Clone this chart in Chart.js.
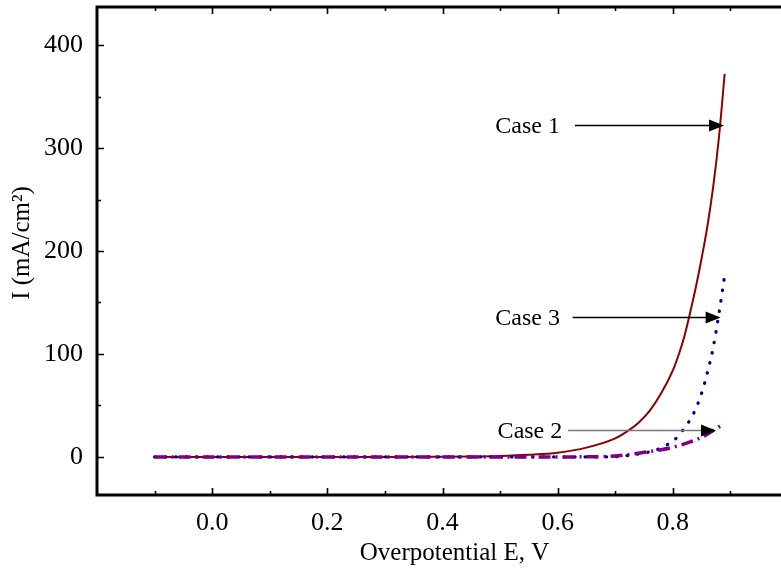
<!DOCTYPE html>
<html>
<head>
<meta charset="utf-8">
<script src="https://cdn.jsdelivr.net/npm/chart.js@4.4.1/dist/chart.umd.min.js"></script>
<style>
  html, body { margin: 0; padding: 0; background: #fff; overflow: hidden; }
  #wrap { width: 800px; height: 575px; }
</style>
</head>
<body>
<div id="wrap"><canvas id="chart" width="800" height="575"></canvas></div>
<script>
const potential = [-0.1, 0.0, 0.1, 0.2, 0.3, 0.4, 0.45, 0.5, 0.55, 0.6, 0.65, 0.7, 0.72, 0.74, 0.76, 0.78, 0.8, 0.81, 0.82, 0.83, 0.84, 0.85, 0.86, 0.87, 0.88, 0.89];

// Current density I (mA/cm2) for each case
const case1 = [0, 0, 0, 0, 0, 0.2, 0.4, 0.9, 2, 4, 9, 18, 24.5, 33, 45, 62, 84, 99, 117, 140, 165, 193, 224, 262, 310, 372];
const case3 = [0, 0, 0, 0, 0, 0, 0, 0, 0, 0, 0, 0.2, 1.2, 2.8, 5, 8.8, 15.5, 20.5, 28, 36, 47, 62, 82, 106, 139, 176];
const case2 = [0, 0, 0, 0, 0, 0, 0, 0, 0, 0, 0.1, 0.9, 2.1, 3.6, 5.2, 7, 9.4, 11, 12.6, 14.5, 16.8, 19, 22, 25.6, 29, 32];

// Arrow annotations: label, label right edge E, arrow tail E, arrow tip E, level I
const caseNames = ["Case 1", "Case 3", "Case 2"];
const labelEndE = [0.604, 0.604, 0.608];
const arrowFromE = [0.630, 0.626, 0.618];
const arrowToE = [0.889, 0.883, 0.875];
const arrowI = [322, 136, 26.6];

const xTitle = "Overpotential E, V";
const yTitle = "I (mA/cm²)";

const FONT = '"Liberation Serif", "Times New Roman", serif';

function pts(ys) {
    return potential.map((e, i) => ({ x: e, y: ys[i] }));
}

// frame box + inward ticks on all four sides, plus axis titles
const frameTicks = {
    id: "frameTicks",
    afterDraw(chart) {
        const { ctx, chartArea: a, scales: { x, y } } = chart;
        ctx.save();
        ctx.strokeStyle = "#000";
        ctx.lineWidth = 1.6;
        x.ticks.forEach(t => {
            const k = Math.round(t.value * 10);
            if (Math.abs(t.value * 10 - k) > 1e-6 || t.value <= x.min || t.value >= x.max) return;
            const len = k % 2 === 0 ? 7 : 4;
            const px = Math.round(x.getPixelForValue(t.value)) + 0.5;
            ctx.beginPath();
            ctx.moveTo(px, a.bottom); ctx.lineTo(px, a.bottom - len);
            ctx.moveTo(px, a.top); ctx.lineTo(px, a.top + len);
            ctx.stroke();
        });
        y.ticks.forEach(t => {
            if (t.value % 50 !== 0 || t.value <= y.min || t.value >= y.max) return;
            const len = t.value % 100 === 0 ? 7 : 4;
            const py = Math.round(y.getPixelForValue(t.value)) + 0.5;
            ctx.beginPath();
            ctx.moveTo(a.left, py); ctx.lineTo(a.left + len, py);
            ctx.moveTo(a.right, py); ctx.lineTo(a.right - len, py);
            ctx.stroke();
        });
        ctx.lineWidth = 3;
        ctx.strokeRect(a.left, a.top, a.right - a.left, a.bottom - a.top);

        // axis titles (original figure sets them slightly off-centre)
        ctx.fillStyle = "#000";
        ctx.font = "25px " + FONT;
        ctx.textAlign = "center";
        ctx.textBaseline = "middle";
        ctx.fillText(xTitle, (a.left + a.right) / 2 + 12, a.bottom + 58);
        ctx.translate(22, (a.top + a.bottom) / 2 - 8);
        ctx.rotate(-Math.PI / 2);
        ctx.fillText(yTitle, 0, 0);
        ctx.restore();
    }
};

// "Case n" labels with arrows pointing at the curves
const caseArrows = {
    id: "caseArrows",
    afterDatasetsDraw(chart) {
        const { ctx, scales: { x, y } } = chart;
        ctx.save();
        ctx.font = "24px " + FONT;
        ctx.textAlign = "right";
        ctx.textBaseline = "middle";
        caseNames.forEach((name, i) => {
            const yy = Math.round(y.getPixelForValue(arrowI[i])) + 0.5;
            const xt = x.getPixelForValue(labelEndE[i]);
            const x0 = x.getPixelForValue(arrowFromE[i]);
            const x1 = x.getPixelForValue(arrowToE[i]);
            ctx.fillStyle = "#000";
            ctx.fillText(name, xt, yy + 1);
            ctx.strokeStyle = i === 2 ? "#777" : "#000";
            ctx.lineWidth = 1.3;
            ctx.beginPath();
            ctx.moveTo(x0, yy);
            ctx.lineTo(x1 - 12, yy);
            ctx.stroke();
            ctx.beginPath();
            ctx.moveTo(x1, yy);
            ctx.lineTo(x1 - 15, yy - 6);
            ctx.lineTo(x1 - 15, yy + 6);
            ctx.closePath();
            ctx.fill();
        });
        ctx.restore();
    }
};

new Chart(document.getElementById("chart"), {
    type: "line",
    data: {
        datasets: [
            {
                label: "Case 1",
                data: pts(case1),
                borderColor: "#8b0000",
                borderWidth: 2,
                pointRadius: 0,
                cubicInterpolationMode: "monotone",
                order: 3
            },
            {
                label: "Case 3",
                data: pts(case3),
                borderColor: "#00008b",
                borderWidth: 3.2,
                borderDash: [0.5, 10],
                borderCapStyle: "round",
                pointRadius: 0,
                cubicInterpolationMode: "monotone",
                order: 2
            },
            {
                label: "Case 2",
                data: pts(case2),
                borderColor: "#800080",
                borderWidth: 3.5,
                borderDash: [12, 5, 2, 5],
                pointRadius: 0,
                cubicInterpolationMode: "monotone",
                order: 1
            }
        ]
    },
    options: {
        responsive: false,
        animation: false,
        devicePixelRatio: 1,
        layout: { padding: { top: 7, right: 12, left: 0, bottom: 0 } },
        plugins: {
            legend: { display: false },
            tooltip: { enabled: false }
        },
        scales: {
            x: {
                type: "linear",
                min: -0.2,
                max: 1.0,
                grid: { display: false },
                border: { display: false },
                ticks: {
                    stepSize: 0.1,
                    autoSkip: false,
                    maxRotation: 0,
                    padding: 5,
                    color: "#000",
                    font: { family: FONT, size: 26 },
                    callback: v => {
                        const k = Math.round(v * 10);
                        if (Math.abs(v * 10 - k) > 1e-6) return "";
                        return (k % 2 === 0 && k >= 0 && k <= 8) ? (k / 10).toFixed(1) : "";
                    }
                },
                afterFit: s => {
                    s.height = 80;
                    s.paddingLeft = 0;
                    s.paddingRight = 0;
                }
            },
            y: {
                min: -37,
                max: 437,
                grid: { display: false },
                border: { display: false },
                ticks: {
                    stepSize: 50,
                    autoSkip: false,
                    padding: 6,
                    color: "#000",
                    font: { family: FONT, size: 26 },
                    callback: v => (v % 100 === 0 ? String(v) : "")
                },
                afterFit: s => {
                    s.width = 97;
                    s.paddingTop = 0;
                    s.paddingBottom = 0;
                }
            }
        }
    },
    plugins: [frameTicks, caseArrows]
});
</script>
</body>
</html>
